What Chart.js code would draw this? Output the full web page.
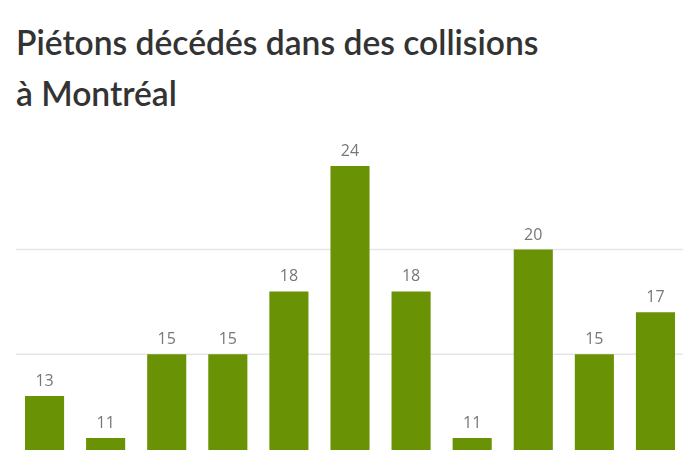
<!DOCTYPE html>
<html>
<head>
<meta charset="utf-8">
<script src="https://cdn.jsdelivr.net/npm/chart.js@4"></script>
<style>
  html, body { margin: 0; padding: 0; background: #fff; overflow: hidden; }
  body { width: 700px; height: 450px; position: relative; }
  h1 {
    position: absolute; left: 16px; top: 17px; margin: 0;
    font-family: Lato, sans-serif; font-weight: 600; font-size: 33.6px;
    line-height: 51px; color: #333;
  }
  #wrap { position: absolute; left: 0; top: 0; width: 700px; height: 700px; }
</style>
</head>
<body>
<h1>Piétons décédés dans des collisions<br>à Montréal</h1>
<div id="wrap"><canvas id="chart"></canvas></div>
<script>
// years (x axis is cut off in the picture)
const years = ["2012", "2013", "2014", "2015", "2016", "2017", "2018", "2019", "2020", "2021", "2022"];
const deaths = [13, 11, 15, 15, 18, 24, 18, 11, 20, 15, 17];
const gridValues = [15, 20];

// light horizontal lines, drawn under the bars
const gridLines = {
  id: "gridLines",
  beforeDatasetsDraw(chart) {
    const ctx = chart.ctx;
    const y = chart.scales.y;
    ctx.save();
    ctx.strokeStyle = "#e6e6e6";
    ctx.lineWidth = 1.5;
    gridValues.forEach((v) => {
      const py = y.getPixelForValue(v);
      ctx.beginPath();
      ctx.moveTo(16, py);
      ctx.lineTo(683, py);
      ctx.stroke();
    });
    ctx.restore();
  },
};

// numbers above each bar
const valueLabels = {
  id: "valueLabels",
  afterDatasetsDraw(chart) {
    const ctx = chart.ctx;
    const meta = chart.getDatasetMeta(0);
    ctx.save();
    ctx.font = "16px 'Open Sans', sans-serif";
    ctx.fillStyle = "#777";
    ctx.textAlign = "center";
    ctx.textBaseline = "alphabetic";
    meta.data.forEach((bar, i) => {
      ctx.fillText(deaths[i], bar.x, bar.y - 10);
    });
    ctx.restore();
  },
};

new Chart(document.getElementById("chart"), {
  type: "bar",
  data: {
    labels: years,
    datasets: [
      {
        data: deaths,
        backgroundColor: "#6a9205",
        barPercentage: 0.8,
        categoryPercentage: 0.8,
      },
    ],
  },
  options: {
    responsive: true,
    maintainAspectRatio: false,
    animation: false,
    layout: { padding: { left: 14, right: 14, top: 145, bottom: 32 } },
    scales: {
      x: { display: false },
      y: { display: false, min: 0, max: 25 },
    },
    plugins: {
      legend: { display: false },
      tooltip: { enabled: false },
    },
  },
  plugins: [gridLines, valueLabels],
});
</script>
</body>
</html>
